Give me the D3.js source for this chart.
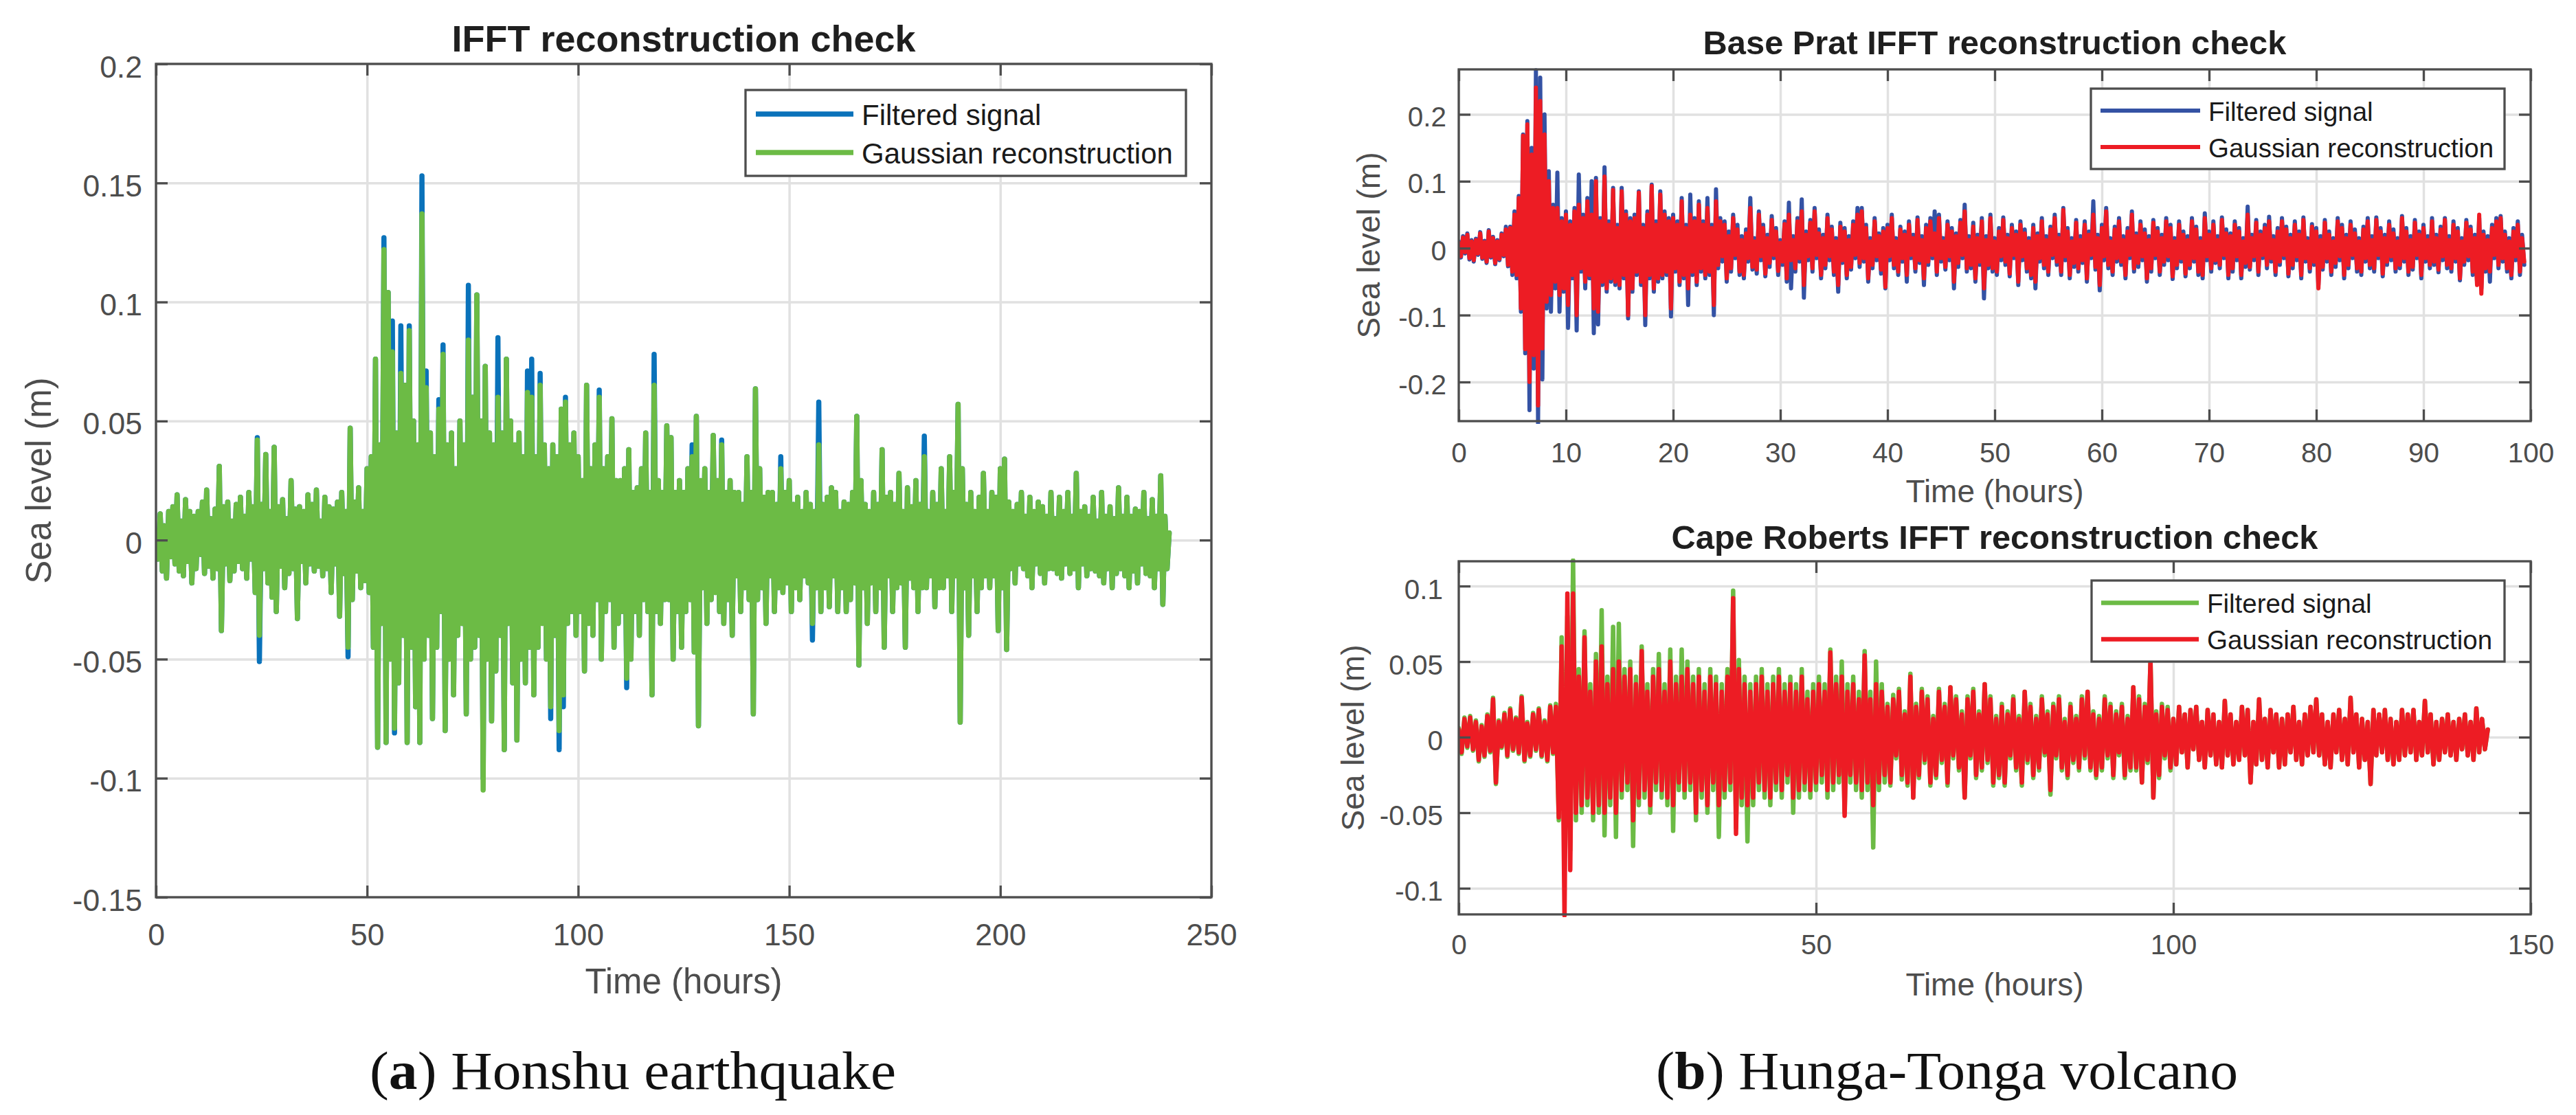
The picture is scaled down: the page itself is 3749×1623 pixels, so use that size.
<!DOCTYPE html>
<html><head><meta charset="utf-8">
<script src="https://cdn.jsdelivr.net/npm/d3@7"></script>
<style>html,body{margin:0;padding:0;background:#fff;}svg{display:block;}</style>
</head><body>
<svg id="fig" width="3749" height="1623"></svg>
<script>
// ---------- DATA ----------
// (a) Honshu earthquake, one sample every 0.5 h from t = 0
const honshuStep = 0.5;
const honshuFiltered = [
.004,-.008,.011,-.013,.006,-.016,.012,-.007,.014,-.01,.019,-.013,.008,-.015,.017,-.009,.012,-.018,.01,-.012,
.012,-.006,.016,-.014,.021,-.011,.009,-.016,.013,-.012,.031,-.038,.014,-.01,.016,-.017,.008,-.013,.015,-.009,
.018,-.012,.01,-.016,.02,-.008,.014,-.022,.043,-.051,.015,-.012,.036,-.018,.012,-.024,.039,-.03,.014,-.011,
.017,-.02,.009,-.014,.025,-.012,.013,-.033,.014,-.009,.012,-.018,.019,-.01,.015,-.013,.021,-.011,.008,-.015,
.018,-.012,.014,-.022,.013,-.01,.016,-.032,.02,-.014,.012,-.049,.047,-.025,.016,-.013,.022,-.02,.012,-.017,
.03,-.022,.035,-.045,.076,-.087,.04,-.035,.127,-.085,.104,-.05,.092,-.081,.045,-.06,.09,-.04,.065,-.085,
.09,-.045,.05,-.07,.04,-.085,.153,-.05,.071,-.04,.045,-.075,.035,-.045,.059,-.03,.082,-.08,.04,-.05,
.045,-.065,.03,-.04,.05,-.035,.04,-.073,.107,-.05,.06,-.045,.103,-.04,.05,-.1,.073,-.05,.045,-.076,
.04,-.055,.085,-.04,.045,-.088,.076,-.035,.05,-.06,.04,-.084,.045,-.05,.035,-.06,.071,-.045,.076,-.065,
.035,-.045,.07,-.035,.04,-.05,.03,-.075,.04,-.04,.035,-.088,.055,-.07,.06,-.035,.04,-.03,.045,-.04,
.035,-.03,.025,-.055,.065,-.035,.03,-.04,.04,-.025,.063,-.05,.03,-.03,.035,-.025,.051,-.045,.025,-.035,
.025,-.03,.03,-.062,.038,-.05,.02,-.03,.022,-.04,.03,-.025,.045,-.03,.02,-.065,.078,-.03,.025,-.035,
.02,-.025,.048,-.025,.043,-.05,.02,-.03,.025,-.045,.02,-.03,.03,-.025,.04,-.047,.052,-.078,.025,-.02,
.03,-.035,.02,-.025,.044,-.022,.025,-.03,.042,-.035,.02,-.025,.025,-.04,.02,-.015,.02,-.03,.015,-.02,
.035,-.025,.02,-.073,.0635,-.025,.03,-.02,.018,-.035,.02,-.015,.02,-.03,.015,-.02,.035,-.022,.02,-.018,
.025,-.03,.015,-.02,.018,-.025,.012,-.015,.02,-.018,.015,-.042,.012,-.02,.058,-.03,.015,-.02,.018,-.028,
.022,-.015,.02,-.03,.012,-.02,.016,-.03,.015,-.025,.02,-.018,.052,-.0525,.025,-.02,.015,-.035,.012,-.018,
.02,-.03,.015,-.02,.038,-.045,.018,-.015,.02,-.03,.015,-.02,.028,-.018,.012,-.045,.022,-.016,.014,-.02,
.025,-.03,.015,-.02,.0437,-.02,.012,-.015,.02,-.028,.015,-.02,.03,-.02,.012,-.015,.035,-.03,.02,-.015,
.057,-.0765,.03,-.02,.015,-.04,.02,-.015,.012,-.03,.018,-.02,.028,-.015,.012,-.02,.02,-.015,.018,-.038,
.03,-.02,.034,-.046,.016,-.012,.012,-.018,.015,-.01,.02,-.012,.01,-.015,.018,-.02,.012,-.01,.016,-.014,
.014,-.018,.01,-.012,.02,-.012,.009,-.014,.018,-.016,.012,-.01,.02,-.014,.01,-.012,.028,-.02,.012,-.01,
.014,-.015,.01,-.012,.018,-.013,.008,-.015,.02,-.018,.01,-.012,.014,-.02,.009,-.014,.022,-.012,.01,-.015,
.018,-.02,.01,-.013,.013,-.018,.012,-.01,.02,-.014,.009,-.015,.017,-.02,.01,-.012,.027,-.027,.01,-.012,.003];
const honshuGaussian = [
.004,-.008,.011,-.013,.006,-.016,.012,-.007,.014,-.01,.019,-.013,.008,-.015,.017,-.009,.012,-.018,.01,-.012,
.012,-.006,.016,-.014,.021,-.011,.009,-.016,.013,-.012,.031,-.038,.014,-.01,.016,-.017,.008,-.013,.015,-.009,
.018,-.012,.01,-.016,.02,-.008,.014,-.022,.042,-.04,.015,-.012,.036,-.018,.012,-.024,.039,-.03,.014,-.011,
.017,-.02,.009,-.014,.025,-.012,.013,-.033,.014,-.009,.012,-.018,.019,-.01,.015,-.013,.021,-.011,.008,-.015,
.018,-.012,.014,-.022,.013,-.01,.016,-.032,.02,-.014,.012,-.045,.047,-.025,.016,-.013,.022,-.02,.012,-.017,
.03,-.022,.035,-.045,.076,-.087,.04,-.035,.122,-.085,.104,-.05,.079,-.079,.045,-.06,.07,-.04,.065,-.085,
.088,-.045,.05,-.07,.04,-.085,.137,-.05,.064,-.04,.045,-.075,.035,-.045,.055,-.03,.078,-.08,.04,-.05,
.045,-.065,.03,-.04,.05,-.035,.04,-.073,.084,-.05,.06,-.045,.103,-.04,.05,-.105,.073,-.05,.045,-.076,
.04,-.055,.06,-.04,.045,-.088,.076,-.035,.05,-.06,.04,-.084,.045,-.05,.035,-.06,.062,-.045,.06,-.065,
.035,-.045,.065,-.035,.04,-.05,.03,-.07,.04,-.04,.035,-.08,.055,-.065,.058,-.035,.04,-.03,.045,-.04,
.035,-.03,.025,-.055,.065,-.035,.03,-.04,.04,-.025,.06,-.05,.03,-.03,.035,-.025,.051,-.045,.025,-.035,
.025,-.03,.03,-.058,.038,-.05,.02,-.03,.022,-.04,.03,-.025,.045,-.03,.02,-.065,.065,-.03,.025,-.035,
.02,-.025,.048,-.025,.043,-.05,.02,-.03,.025,-.045,.02,-.03,.03,-.025,.035,-.047,.052,-.078,.025,-.02,
.03,-.035,.02,-.025,.044,-.022,.025,-.03,.04,-.035,.02,-.025,.025,-.04,.02,-.015,.02,-.03,.015,-.02,
.035,-.025,.02,-.073,.0635,-.025,.03,-.02,.018,-.035,.02,-.015,.02,-.03,.015,-.02,.03,-.022,.02,-.018,
.025,-.03,.015,-.02,.018,-.025,.012,-.015,.02,-.018,.015,-.035,.012,-.02,.04,-.03,.015,-.02,.018,-.028,
.022,-.015,.02,-.03,.012,-.02,.016,-.03,.015,-.025,.02,-.018,.052,-.0525,.025,-.02,.015,-.035,.012,-.018,
.02,-.03,.015,-.02,.038,-.045,.018,-.015,.02,-.03,.015,-.02,.028,-.018,.012,-.045,.022,-.016,.014,-.02,
.025,-.03,.015,-.02,.035,-.02,.012,-.015,.02,-.028,.015,-.02,.03,-.02,.012,-.015,.035,-.03,.02,-.015,
.057,-.0765,.03,-.02,.015,-.04,.02,-.015,.012,-.03,.018,-.02,.028,-.015,.012,-.02,.02,-.015,.018,-.038,
.03,-.02,.034,-.046,.016,-.012,.012,-.018,.015,-.01,.02,-.012,.01,-.015,.018,-.02,.012,-.01,.016,-.014,
.014,-.018,.01,-.012,.02,-.012,.009,-.014,.018,-.016,.012,-.01,.02,-.014,.01,-.012,.028,-.02,.012,-.01,
.014,-.015,.01,-.012,.018,-.013,.008,-.015,.02,-.018,.01,-.012,.014,-.02,.009,-.014,.022,-.012,.01,-.015,
.018,-.02,.01,-.013,.013,-.018,.012,-.01,.02,-.014,.009,-.015,.017,-.02,.01,-.012,.027,-.027,.01,-.012,.003];

// (b) Base Prat, one sample every 0.2 h from t = 0
const pratStep = 0.2;
const pratFiltered = [
.01,-.014,.018,-.008,.022,-.017,.012,-.02,.014,-.01,.024,-.016,.011,-.022,.027,-.014,.017,-.024,.012,-.018,
.022,-.012,.032,-.027,.032,-.04,.055,-.045,.078,-.095,.17,-.157,.19,-.242,.15,-.18,.266,-.263,.255,-.196,
.2,-.09,.115,-.095,.065,-.06,.113,-.095,.045,-.065,.055,-.119,.04,-.045,.06,-.123,.11,-.035,.05,-.06,
.075,-.045,.1,-.127,.105,-.114,.045,-.055,.121,-.065,.04,-.05,.09,-.055,.035,-.06,.09,-.045,.055,-.105,
.045,-.065,.05,-.04,.085,-.055,.035,-.115,.055,-.045,.095,-.065,.04,-.05,.085,-.045,.055,-.04,.045,-.102,
.05,-.035,.04,-.055,.075,-.045,.035,-.085,.08,-.04,.045,-.055,.07,-.035,.04,-.045,.075,-.04,.035,-.1,
.088,-.03,.045,-.02,.04,-.05,.025,-.035,.05,-.015,.035,-.04,.018,-.045,.028,-.02,.075,-.032,.015,-.038,
.055,-.018,.035,-.042,.02,-.028,.048,-.015,.03,-.04,.012,-.025,.04,-.05,.068,-.06,.018,-.035,.045,-.02,
.073,-.074,.025,-.018,.042,-.035,.06,-.015,.028,-.045,.02,-.03,.05,-.018,.032,-.04,.015,-.065,.038,-.022,
.03,-.045,.018,-.032,.04,-.015,.06,-.028,.06,-.02,.035,-.05,.015,-.03,.045,-.018,.022,-.038,.03,-.06,
.035,-.018,.05,-.03,.015,-.04,.032,-.02,.025,-.05,.04,-.015,.02,-.035,.046,-.022,.018,-.055,.035,-.025,
.045,-.015,.055,-.04,.05,-.02,.015,-.032,.04,-.018,.03,-.06,.022,-.028,.042,-.015,.065,-.035,.018,-.03,
.038,-.05,.02,-.025,.045,-.075,.018,-.03,.05,-.035,.015,-.04,.03,-.018,.046,-.025,.02,-.042,.035,-.015,
.025,-.055,.04,-.018,.028,-.035,.015,-.045,.035,-.06,.022,-.02,.045,-.03,.018,-.04,.032,-.015,.05,-.025,
.02,-.04,.06,-.018,.03,-.045,.015,-.028,.042,-.035,.018,-.022,.04,-.05,.025,-.015,.07,-.032,.02,-.063,
.035,-.018,.06,-.03,.015,-.04,.032,-.02,.045,-.025,.018,-.045,.03,-.015,.055,-.035,.022,-.028,.04,-.018,
.028,-.05,.018,-.035,.042,-.015,.03,-.04,.02,-.025,.045,-.018,.035,-.046,.015,-.03,.04,-.02,.025,-.042,
.018,-.03,.045,-.02,.032,-.04,.015,-.045,.052,-.018,.025,-.035,.04,-.022,.018,-.03,.046,-.015,.028,-.045,
.022,-.035,.04,-.018,.03,-.045,.015,-.028,.062,-.032,.02,-.018,.042,-.04,.025,-.015,.035,-.03,.047,-.02,
.018,-.04,.03,-.025,.045,-.015,.032,-.042,.02,-.03,.04,-.018,.025,-.045,.046,-.02,.015,-.035,.036,-.025,
.03,-.055,.018,-.032,.042,-.02,.025,-.04,.015,-.028,.045,-.018,.035,-.045,.02,-.03,.04,-.015,.028,-.035,
.015,-.04,.032,-.02,.045,-.03,.018,-.035,.046,-.015,.03,-.042,.02,-.025,.04,-.018,.028,-.035,.015,-.03,
.048,-.02,.03,-.04,.018,-.032,.042,-.015,.025,-.045,.035,-.02,.018,-.03,.045,-.025,.02,-.036,.032,-.018,
.045,-.03,.018,-.035,.04,-.02,.03,-.048,.015,-.025,.042,-.018,.032,-.04,.02,-.05,.045,-.06,.025,-.035,
.018,-.05,.035,-.015,.045,-.03,.048,-.02,.025,-.035,.015,-.045,.03,-.018,.04,-.04,.02,-.025];
const pratGaussian = [
.008,-.012,.016,-.006,.02,-.015,.01,-.018,.012,-.008,.022,-.014,.009,-.02,.025,-.012,.015,-.022,.01,-.016,
.02,-.01,.028,-.025,.03,-.035,.05,-.04,.075,-.09,.168,-.151,.185,-.2,.14,-.16,.24,-.235,.22,-.15,
.17,-.08,.1,-.07,.06,-.05,.06,-.07,.04,-.06,.05,-.085,.035,-.04,.055,-.1,.065,-.03,.045,-.05,
.07,-.04,.05,-.09,.1,-.095,.04,-.05,.107,-.06,.035,-.045,.087,-.05,.03,-.055,.085,-.04,.05,-.1,
.04,-.06,.045,-.035,.083,-.05,.03,-.1,.05,-.04,.093,-.06,.035,-.045,.08,-.04,.05,-.035,.04,-.09,
.045,-.03,.035,-.05,.07,-.04,.03,-.06,.05,-.035,.04,-.05,.065,-.03,.035,-.04,.06,-.035,.03,-.085,
.07,-.025,.04,-.012,.035,-.045,.018,-.03,.045,-.01,.028,-.035,.012,-.04,.022,-.015,.06,-.028,.01,-.032,
.05,-.012,.03,-.038,.015,-.022,.042,-.01,.025,-.034,.008,-.02,.036,-.045,.05,-.018,.012,-.03,.04,-.015,
.055,-.055,.02,-.012,.038,-.03,.055,-.01,.022,-.04,.015,-.025,.045,-.012,.028,-.035,.01,-.055,.032,-.018,
.025,-.04,.012,-.028,.035,-.01,.05,-.022,.055,-.015,.03,-.045,.01,-.025,.04,-.012,.018,-.032,.025,-.058,
.03,-.012,.045,-.025,.01,-.035,.028,-.015,.02,-.04,.035,-.01,.015,-.03,.042,-.018,.012,-.045,.03,-.02,
.04,-.01,.022,-.035,.045,-.015,.01,-.028,.035,-.012,.025,-.05,.018,-.022,.038,-.01,.055,-.03,.012,-.025,
.032,-.045,.015,-.02,.04,-.06,.012,-.025,.045,-.03,.01,-.035,.025,-.012,.042,-.02,.015,-.038,.03,-.01,
.02,-.05,.035,-.012,.022,-.03,.01,-.04,.03,-.05,.018,-.015,.04,-.025,.012,-.035,.028,-.01,.045,-.02,
.015,-.035,.057,-.012,.025,-.04,.01,-.022,.038,-.03,.012,-.018,.035,-.045,.02,-.01,.05,-.028,.015,-.055,
.03,-.012,.055,-.025,.01,-.035,.028,-.015,.04,-.02,.012,-.04,.025,-.01,.05,-.03,.018,-.022,.035,-.012,
.022,-.045,.012,-.03,.038,-.01,.025,-.035,.015,-.02,.04,-.012,.03,-.042,.01,-.025,.035,-.015,.02,-.038,
.012,-.025,.04,-.015,.028,-.035,.01,-.04,.045,-.012,.02,-.03,.035,-.018,.012,-.025,.042,-.01,.022,-.04,
.018,-.03,.035,-.012,.025,-.04,.01,-.022,.05,-.028,.015,-.012,.038,-.035,.02,-.01,.03,-.025,.04,-.015,
.012,-.035,.025,-.02,.04,-.01,.028,-.038,.015,-.025,.035,-.012,.02,-.04,.042,-.015,.01,-.03,.032,-.02,
.025,-.06,.012,-.028,.038,-.015,.02,-.035,.01,-.022,.04,-.012,.03,-.04,.015,-.025,.035,-.01,.022,-.03,
.01,-.035,.028,-.015,.04,-.025,.012,-.03,.042,-.01,.025,-.038,.015,-.02,.035,-.012,.022,-.03,.01,-.025,
.045,-.015,.025,-.035,.012,-.028,.038,-.01,.02,-.04,.03,-.015,.012,-.025,.04,-.02,.015,-.032,.028,-.012,
.042,-.025,.012,-.03,.035,-.015,.025,-.045,.01,-.02,.038,-.012,.028,-.035,.015,-.055,.05,-.068,.02,-.03,
.012,-.035,.03,-.01,.04,-.025,.045,-.015,.02,-.03,.01,-.04,.025,-.012,.035,-.035,.015,-.02];

// (b) Cape Roberts, one sample every 0.4 h from t = 0
const robertsStep = 0.4;
const robertsFiltered = [
.006,-.011,.013,-.007,.014,-.009,.011,-.016,.008,-.013,.015,-.01,.026,-.031,.011,-.007,.016,-.013,.019,-.009,.013,-.011,.027,-.016,.01,
-.013,.016,-.009,.019,-.013,.011,-.016,.021,-.011,.022,-.055,.066,-.06,.08,-.075,.117,-.055,.045,-.05,.07,-.045,.035,-.055,.055,-.05,
.084,-.065,.04,-.045,.073,-.066,.075,-.04,.045,-.035,.05,-.072,.04,-.045,.06,-.04,.035,-.05,.045,-.035,.055,-.04,.035,-.045,.058,
-.062,.04,-.035,.058,-.04,.05,-.035,.04,-.055,.045,-.04,.035,-.05,.045,-.035,.04,-.066,.035,-.04,.045,-.035,.097,-.06,.051,-.045,
.04,-.069,.035,-.045,.04,-.035,.045,-.04,.035,-.045,.04,-.035,.045,-.04,.035,-.03,.04,-.05,.035,-.04,.045,-.035,.03,-.04,.035,
-.035,.04,-.03,.035,-.04,.058,-.035,.04,-.03,.05,-.05,.035,-.03,.04,-.035,.03,-.04,.057,-.035,.03,-.073,.05,-.035,.035,-.03,
.022,-.032,.028,-.014,.032,-.028,.017,-.032,.042,-.04,.022,-.027,.032,-.017,.027,-.032,.014,-.027,.032,-.017,.022,-.032,.033,-.014,.027,
-.022,.017,-.04,.027,-.014,.032,-.027,.017,-.022,.035,-.017,.027,-.032,.014,-.027,.022,-.032,.017,-.014,.027,-.022,.014,-.032,.03,-.017,
.022,-.027,.014,-.022,.027,-.012,.017,-.038,.022,-.014,.027,-.022,.012,-.027,.022,-.017,.014,-.022,.027,-.014,.03,-.022,.017,-.027,.014,
-.022,.027,-.014,.022,-.027,.017,-.012,.022,-.027,.014,-.022,.033,-.022,.027,-.03,.022,-.017,.05,-.04,.017,-.027,.022,-.014,.02,-.022,
.012,-.018,.02,-.01,.015,-.02,.018,-.008,.02,-.015,.01,-.02,.018,-.012,.015,-.018,.01,-.02,.024,-.012,.015,-.018,.01,-.015,.02,
-.012,.018,-.03,.01,-.018,.025,-.015,.012,-.02,.018,-.01,.015,-.02,.012,-.018,.015,-.01,.02,-.015,.01,-.018,.015,-.012,.02,-.01,
.025,-.012,.015,-.018,.01,-.02,.015,-.01,.018,-.015,.012,-.018,.026,-.01,.015,-.02,.012,-.015,.01,-.031,.018,-.012,.015,-.01,.018,
-.015,.012,-.018,.01,-.015,.018,-.012,.015,-.01,.018,-.015,.01,-.012,.024,-.01,.015,-.018,.01,-.015,.012,-.01,.015,-.012,.01,-.015,
.012,-.008,.015,-.012,.01,-.015,.019,-.01,.012,-.008,.005];
const robertsGaussian = [
.005,-.01,.012,-.006,.013,-.008,.01,-.015,.007,-.012,.014,-.009,.025,-.03,.01,-.006,.015,-.012,.018,-.008,.012,-.01,.026,-.015,.009,
-.012,.015,-.008,.018,-.012,.01,-.015,.02,-.01,.02,-.053,.06,-.118,.095,-.088,.095,-.05,.04,-.045,.066,-.04,.03,-.05,.05,-.045,
.06,-.05,.035,-.04,.045,-.05,.05,-.035,.04,-.03,.045,-.055,.035,-.04,.057,-.035,.03,-.045,.04,-.03,.045,-.035,.03,-.04,.05,
-.045,.035,-.03,.04,-.035,.045,-.03,.035,-.05,.04,-.035,.03,-.045,.04,-.03,.035,-.045,.03,-.035,.04,-.03,.092,-.064,.045,-.04,
.035,-.045,.03,-.04,.035,-.03,.04,-.035,.03,-.04,.035,-.03,.04,-.035,.03,-.025,.035,-.04,.03,-.035,.04,-.03,.025,-.035,.03,
-.03,.035,-.025,.03,-.035,.056,-.03,.035,-.025,.04,-.052,.03,-.025,.035,-.03,.025,-.035,.054,-.03,.025,-.045,.035,-.03,.03,-.025,
.02,-.03,.025,-.012,.03,-.025,.015,-.03,.04,-.04,.02,-.025,.03,-.015,.025,-.03,.012,-.025,.03,-.015,.02,-.03,.033,-.012,.025,
-.02,.015,-.04,.025,-.012,.03,-.025,.015,-.02,.035,-.015,.025,-.03,.012,-.025,.02,-.03,.015,-.012,.025,-.02,.012,-.03,.03,-.015,
.02,-.025,.012,-.02,.025,-.01,.015,-.035,.02,-.012,.025,-.02,.01,-.025,.02,-.015,.012,-.02,.025,-.012,.03,-.02,.015,-.025,.012,
-.02,.025,-.012,.02,-.025,.015,-.01,.02,-.025,.012,-.02,.033,-.02,.025,-.03,.02,-.015,.05,-.04,.015,-.025,.02,-.012,.018,-.02,
.012,-.018,.02,-.01,.015,-.02,.018,-.008,.02,-.015,.01,-.02,.018,-.012,.015,-.018,.01,-.02,.024,-.012,.015,-.018,.01,-.015,.02,
-.012,.018,-.03,.01,-.018,.025,-.015,.012,-.02,.018,-.01,.015,-.02,.012,-.018,.015,-.01,.02,-.015,.01,-.018,.015,-.012,.02,-.01,
.025,-.012,.015,-.018,.01,-.02,.015,-.01,.018,-.015,.012,-.018,.026,-.01,.015,-.02,.012,-.015,.01,-.031,.018,-.012,.015,-.01,.018,
-.015,.012,-.018,.01,-.015,.018,-.012,.015,-.01,.018,-.015,.01,-.012,.024,-.01,.015,-.018,.01,-.015,.012,-.01,.015,-.012,.01,-.015,
.012,-.008,.015,-.012,.01,-.015,.019,-.01,.012,-.008,.005];

// Axis ticks
const honshuXTicks = [0, 50, 100, 150, 200, 250];
const honshuYTicks = [-0.15, -0.1, -0.05, 0, 0.05, 0.1, 0.15, 0.2];
const pratXTicks = [0, 10, 20, 30, 40, 50, 60, 70, 80, 90, 100];
const pratYTicks = [-0.2, -0.1, 0, 0.1, 0.2];
const robertsXTicks = [0, 50, 100, 150];
const robertsYTicks = [-0.1, -0.05, 0, 0.05, 0.1];

const seriesNames = ["Filtered signal", "Gaussian reconstruction"];
const captions = [["a", " Honshu earthquake"], ["b", " Hunga-Tonga volcano"]];

// ---------- LAYOUT ----------
const SANS = "'Liberation Sans', Arial, Helvetica, sans-serif";
const AX = "#4d4d4d", GRID = "#e1e1e1";
const panels = [
  { title: "IFFT reconstruction check", left: 227, right: 1763, top: 93, bottom: 1306,
    xDomain: [0, 250], yDomain: [-0.15, 0.2], xTicks: honshuXTicks, yTicks: honshuYTicks,
    step: honshuStep, series: [honshuFiltered, honshuGaussian], colors: ["#0a72ba", "#6cbb45"], lw: 7.5,
    fTick: 44.5, fLab: 51, fTitle: 54, fLeg: 42,
    xTickDy: 70, yTickDx: 20, yTickDy: 19, titleY: 75, xLabY: 1446, yLabX: 74,
    leg: { x0: 1085, x1: 1726, y0: 131, y1: 256, lx0: 1100, lx1: 1242, ly: [166, 222], tx: 1254, tdy: 16 } },
  { title: "Base Prat IFFT reconstruction check", left: 2123, right: 3683, top: 101, bottom: 613,
    xDomain: [0, 100], yDomain: [-0.2585, 0.2672], xTicks: pratXTicks, yTicks: pratYTicks,
    step: pratStep, series: [pratFiltered, pratGaussian], colors: ["#3452a4", "#ed1c24"], lw: 6,
    fTick: 40.5, fLab: 46, fTitle: 48.8, fLeg: 38.5,
    xTickDy: 60, yTickDx: 18, yTickDy: 17, titleY: 79, xLabY: 731, yLabX: 2008,
    leg: { x0: 3043, x1: 3645, y0: 129, y1: 246, lx0: 3057, lx1: 3202, ly: [161, 214], tx: 3214, tdy: 14.5 } },
  { title: "Cape Roberts IFFT reconstruction check", left: 2123, right: 3683, top: 817, bottom: 1331,
    xDomain: [0, 150], yDomain: [-0.1173, 0.1164], xTicks: robertsXTicks, yTicks: robertsYTicks,
    step: robertsStep, series: [robertsFiltered, robertsGaussian], colors: ["#6cbb45", "#ed1c24"], lw: 6.5,
    fTick: 40.5, fLab: 46, fTitle: 48.8, fLeg: 38.5,
    xTickDy: 58, yTickDx: 23, yTickDy: 18, titleY: 799, xLabY: 1449, yLabX: 1985,
    leg: { x0: 3044, x1: 3645, y0: 845, y1: 963, lx0: 3058, lx1: 3200, ly: [877.5, 930.5], tx: 3212, tdy: 14.5 } }
];

const svg = d3.select("#fig");
svg.append("rect").attr("width", 3749).attr("height", 1623).attr("fill", "#fff");

panels.forEach((p, pi) => {
  const x = d3.scaleLinear().domain(p.xDomain).range([p.left, p.right]);
  const y = d3.scaleLinear().domain(p.yDomain).range([p.bottom, p.top]);
  const W = p.right - p.left, H = p.bottom - p.top;
  const g = svg.append("g");
  const fmt = d => String(d);

  // grid
  g.append("g").attr("transform", `translate(0,${p.bottom})`)
    .call(d3.axisBottom(x).tickValues(p.xTicks).tickSize(-H).tickFormat(""))
    .call(s => { s.select(".domain").remove(); s.selectAll("line").attr("stroke", GRID).attr("stroke-width", 3.5); });
  g.append("g").attr("transform", `translate(${p.left},0)`)
    .call(d3.axisLeft(y).tickValues(p.yTicks).tickSize(-W).tickFormat(""))
    .call(s => { s.select(".domain").remove(); s.selectAll("line").attr("stroke", GRID).attr("stroke-width", 3.5); });

  // data
  const cid = "clip" + pi;
  svg.append("clipPath").attr("id", cid).append("rect")
    .attr("x", p.left).attr("y", p.top - 4).attr("width", W).attr("height", H + 8);
  const line = d3.line().x((d, i) => x(i * p.step)).y(d => y(d));
  const dg = g.append("g").attr("clip-path", `url(#${cid})`);
  p.series.forEach((s, si) => {
    dg.append("path").datum(s).attr("d", line).attr("fill", "none")
      .attr("stroke", p.colors[si]).attr("stroke-width", p.lw)
      .attr("stroke-linejoin", "round").attr("stroke-linecap", "round");
  });

  // ticks (inward, all four sides)
  const styleTicks = s => { s.select(".domain").remove(); s.selectAll("line").attr("stroke", AX).attr("stroke-width", 3.3); };
  g.append("g").attr("transform", `translate(0,${p.bottom})`)
    .call(d3.axisBottom(x).tickValues(p.xTicks).tickSizeInner(-17).tickSizeOuter(0).tickFormat(fmt))
    .call(styleTicks)
    .call(s => s.selectAll("text").attr("y", p.xTickDy).attr("dy", null)
      .attr("font-family", SANS).attr("font-size", p.fTick).attr("fill", AX));
  g.append("g").attr("transform", `translate(0,${p.top})`)
    .call(d3.axisTop(x).tickValues(p.xTicks).tickSizeInner(-17).tickSizeOuter(0).tickFormat(""))
    .call(styleTicks);
  g.append("g").attr("transform", `translate(${p.left},0)`)
    .call(d3.axisLeft(y).tickValues(p.yTicks).tickSizeInner(-17).tickSizeOuter(0).tickFormat(fmt))
    .call(styleTicks)
    .call(s => s.selectAll("text").attr("x", -p.yTickDx).attr("dy", null).attr("y", p.yTickDy)
      .attr("font-family", SANS).attr("font-size", p.fTick).attr("fill", AX));
  g.append("g").attr("transform", `translate(${p.right},0)`)
    .call(d3.axisRight(y).tickValues(p.yTicks).tickSizeInner(-17).tickSizeOuter(0).tickFormat(""))
    .call(styleTicks);

  // frame
  g.append("rect").attr("x", p.left).attr("y", p.top).attr("width", W).attr("height", H)
    .attr("fill", "none").attr("stroke", AX).attr("stroke-width", 3.3);

  // labels
  g.append("text").attr("x", (p.left + p.right) / 2).attr("y", p.titleY).attr("text-anchor", "middle")
    .attr("font-family", SANS).attr("font-weight", "bold").attr("font-size", p.fTitle).attr("fill", "#1f1f1f")
    .text(p.title);
  g.append("text").attr("x", (p.left + p.right) / 2).attr("y", p.xLabY).attr("text-anchor", "middle")
    .attr("font-family", SANS).attr("font-size", p.fLab).attr("fill", AX).text("Time (hours)");
  g.append("text").attr("transform", `translate(${p.yLabX},${(p.top + p.bottom) / 2}) rotate(-90)`)
    .attr("text-anchor", "middle").attr("font-family", SANS).attr("font-size", p.fLab).attr("fill", AX)
    .text("Sea level (m)");

  // legend
  const L = p.leg;
  g.append("rect").attr("x", L.x0).attr("y", L.y0).attr("width", L.x1 - L.x0).attr("height", L.y1 - L.y0)
    .attr("fill", "#fff").attr("stroke", AX).attr("stroke-width", 3.3);
  seriesNames.forEach((n, i) => {
    g.append("line").attr("x1", L.lx0).attr("x2", L.lx1).attr("y1", L.ly[i]).attr("y2", L.ly[i])
      .attr("stroke", p.colors[i]).attr("stroke-width", p.lw);
    g.append("text").attr("x", L.tx).attr("y", L.ly[i] + L.tdy).attr("font-family", SANS)
      .attr("font-size", p.fLeg).attr("fill", "#1a1a1a").text(n);
  });
});

// captions
const capPos = [{ x0: 538, w: 766 }, { x0: 2410, w: 847 }];
captions.forEach((c, i) => {
  const t = svg.append("text").attr("x", capPos[i].x0).attr("y", 1585)
    .attr("font-family", "'Liberation Serif', 'Times New Roman', serif").attr("font-size", 78)
    .attr("fill", "#111").attr("textLength", capPos[i].w).attr("lengthAdjust", "spacingAndGlyphs");
  t.append("tspan").text("(");
  t.append("tspan").attr("font-weight", "bold").text(c[0]);
  t.append("tspan").text(")" + c[1]);
});
</script>
</body></html>
